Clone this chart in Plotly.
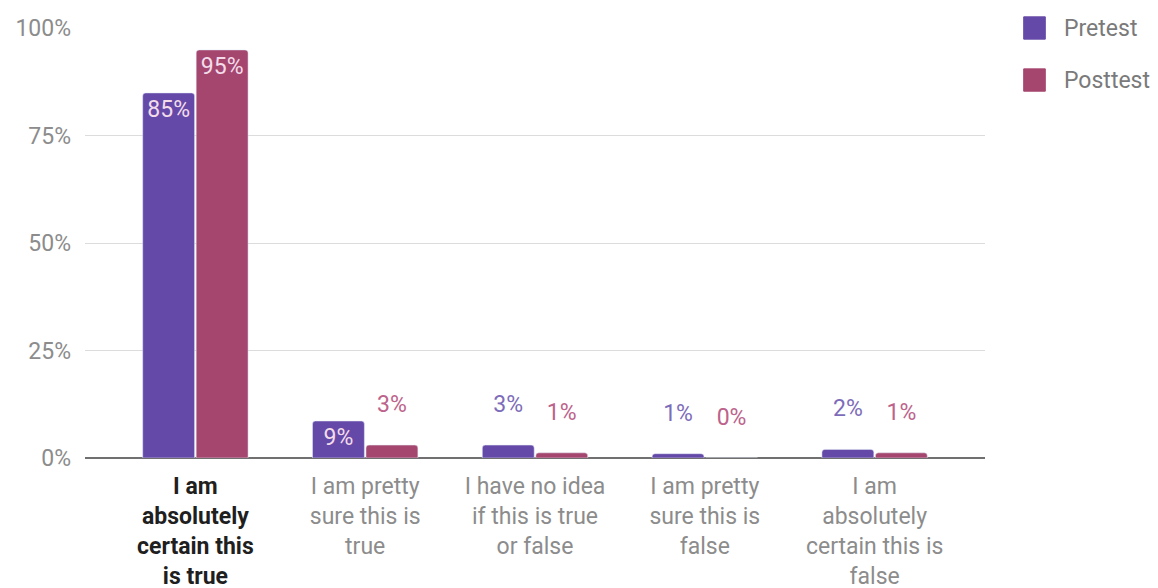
import plotly.graph_objects as go

categories = [
    "I am absolutely certain this is true",
    "I am pretty sure this is true",
    "I have no idea if this is true or false",
    "I am pretty sure this is false",
    "I am absolutely certain this is false",
]
tick_labels = [
    "<b>I am<br>absolutely<br>certain this<br>is true</b>",
    "I am pretty<br>sure this is<br>true",
    "I have no idea<br>if this is true<br>or false",
    "I am pretty<br>sure this is<br>false",
    "I am<br>absolutely<br>certain this is<br>false",
]
pretest = [84.9, 8.6, 3.0, 1.0, 2.0]
posttest = [94.9, 3.0, 1.2, 0.0, 1.2]
pretest_labels = ["85%", "9%", "3%", "1%", "2%"]
posttest_labels = ["95%", "3%", "1%", "0%", "1%"]
y_ticks = [0, 25, 50, 75, 100]
y_tick_labels = ["0%", "25%", "50%", "75%", "100%"]
series_names = ["Pretest", "Posttest"]

PRE = "#6549a8"
POST = "#a5466f"
FS = 23

x = list(range(len(categories)))


def positions(vals):
    return ["inside" if v > 6 else "outside" for v in vals]


def texts(vals, labels):
    return [l if v > 6 else l + "<br><span style='font-size:1px'> </span>"
            for v, l in zip(vals, labels)]


def text_colors(vals, outside_color):
    return ["#f3dcea" if v > 6 else outside_color for v in vals]


fig = go.Figure()
fig.add_trace(go.Bar(
    name=series_names[0], x=x, y=pretest, marker_color=PRE,
    text=texts(pretest, pretest_labels), textposition=positions(pretest),
    insidetextanchor="end", showlegend=False,
    textfont=dict(color=text_colors(pretest, "#7d6cb9"), size=FS, family="Roboto"),
    cliponaxis=False,
))
fig.add_trace(go.Bar(
    name=series_names[1], x=x, y=posttest, marker_color=POST,
    text=texts(posttest, posttest_labels), textposition=positions(posttest),
    insidetextanchor="end", showlegend=False,
    textfont=dict(color=text_colors(posttest, "#bc638b"), size=FS, family="Roboto"),
    cliponaxis=False,
))

ticktext = []
for i, t in enumerate(tick_labels):
    col = "#1f1f1f" if i == 0 else "#8c8c8c"
    ticktext.append("<span style='color:" + col + "'>" + t + "</span>")

# custom legend (large squares like the original)
for i, (name, col) in enumerate(zip(series_names, [PRE, POST])):
    yc = 1.0 - i * 0.121
    fig.add_shape(type="rect", xref="paper", yref="paper",
                  x0=1.043, x1=1.067, y0=yc - 0.026, y1=yc + 0.026,
                  fillcolor=col, line=dict(color=col, width=1))
    fig.add_annotation(xref="paper", yref="paper", x=1.085, y=yc,
                       text=name, showarrow=False, xanchor="left",
                       yanchor="middle",
                       font=dict(size=FS, color="#7a7a7a", family="Roboto"))

fig.update_layout(
    width=1158, height=588,
    margin=dict(l=77, r=181, t=20, b=138, autoexpand=False),
    paper_bgcolor="white", plot_bgcolor="white",
    barmode="group", bargap=0.37, bargroupgap=0.03,
    barcornerradius=3,
    font=dict(family="Roboto", size=FS, color="#7a7a7a"),
    showlegend=False,
    xaxis=dict(
        tickmode="array", tickvals=x, ticktext=ticktext,
        range=[-0.65, 4.65], showgrid=False, zeroline=False,
        showline=False, ticks="", tickfont=dict(size=FS, family="Roboto"),
        ticklabelstandoff=12, automargin=False,
    ),
    yaxis=dict(
        range=[0, 100], tickmode="array", tickvals=y_ticks,
        ticktext=y_tick_labels,
        showgrid=True, gridcolor="#dcdcdc", gridwidth=1,
        zeroline=True, zerolinecolor="#707070", zerolinewidth=2,
        showline=False, tickfont=dict(size=FS, color="#8c8c8c"),
        ticklabelstandoff=13, automargin=False,
    ),
)

fig.write_html("out.html")
